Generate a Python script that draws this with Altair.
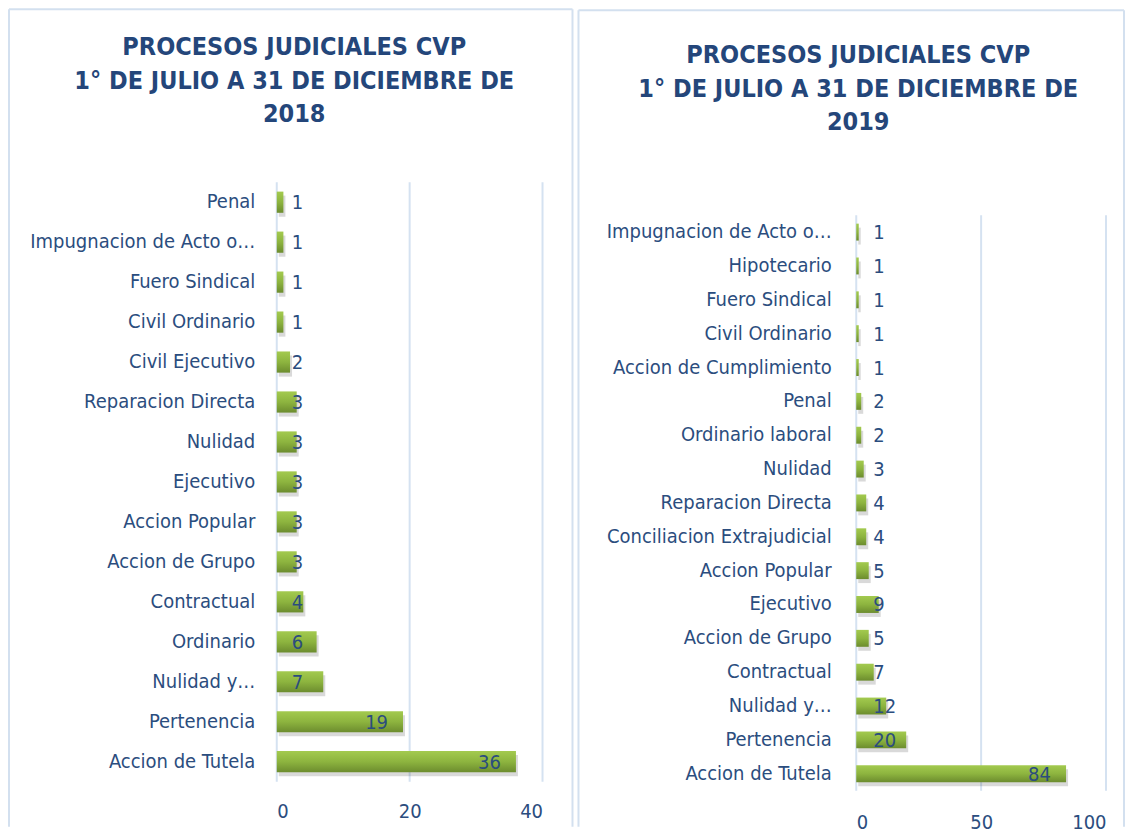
import altair as alt
import pandas as pd

# ---------------- data ----------------
cats_2018 = ["Penal", "Impugnacion de Acto o…", "Fuero Sindical", "Civil Ordinario",
             "Civil Ejecutivo", "Reparacion Directa", "Nulidad", "Ejecutivo",
             "Accion Popular", "Accion de Grupo", "Contractual", "Ordinario",
             "Nulidad y…", "Pertenencia", "Accion de Tutela"]
vals_2018 = [1, 1, 1, 1, 2, 3, 3, 3, 3, 3, 4, 6, 7, 19, 36]

cats_2019 = ["Impugnacion de Acto o…", "Hipotecario", "Fuero Sindical", "Civil Ordinario",
             "Accion de Cumplimiento", "Penal", "Ordinario laboral", "Nulidad",
             "Reparacion Directa", "Conciliacion Extrajudicial", "Accion Popular",
             "Ejecutivo", "Accion de Grupo", "Contractual", "Nulidad y…",
             "Pertenencia", "Accion de Tutela"]
vals_2019 = [1, 1, 1, 1, 1, 2, 2, 3, 4, 4, 5, 9, 5, 7, 12, 20, 84]

ticks_2018 = [0, 20, 40]
ticks_2019 = [0, 50, 100]

title_2018 = "PROCESOS JUDICIALES CVP\n1° DE JULIO A 31 DE DICIEMBRE DE\n2018"
title_2019 = "PROCESOS JUDICIALES CVP\n1° DE JULIO A 31 DE DICIEMBRE DE\n2019"

# ---------------- style ----------------
FONT = "Liberation Sans Narrow, Arial Narrow, DejaVu Sans Condensed, sans-serif"
TEXT = "#2B4D7E"
TITLE = "#24467A"
GRID = "#D5E2F1"
BORDER = "#D3E0EF"

green = alt.Gradient(
    gradient="linear",
    stops=[alt.GradientStop(color="#A3CA4F", offset=0),
           alt.GradientStop(color="#8DB43F", offset=0.5),
           alt.GradientStop(color="#6C8C2E", offset=1)],
    x1=0, x2=0, y1=0, y2=1,
)


def panel(cats, vals, ticks, w, h, y_top, pad_inner, lab_pad, x_lab_pad,
          lab_shift, lab_min, title, t_dx, t_y, border):
    df = pd.DataFrame({"cat": cats, "val": vals})
    base = alt.Chart(df)

    y_enc = alt.Y(
        "cat:N", sort=None, title=None,
        scale=alt.Scale(paddingInner=pad_inner, paddingOuter=pad_inner / 2,
                        range=[y_top, h]),
        axis=alt.Axis(domain=False, ticks=False, grid=False, labelFontSize=20,
                      labelFont=FONT, labelColor=TEXT, labelPadding=lab_pad,
                      labelLimit=400),
    )
    x_enc = alt.X(
        "val:Q", title=None,
        scale=alt.Scale(domain=[ticks[0], ticks[-1]], nice=False),
        axis=alt.Axis(values=ticks, domain=False, ticks=False, grid=False,
                      labelFontSize=20, labelFont=FONT, labelColor=TEXT,
                      labelPadding=x_lab_pad),
    )

    gdf = pd.DataFrame({"t": ticks})
    grid = alt.Chart(gdf).mark_rule(color=GRID, strokeWidth=2).encode(
        x=alt.X("t:Q"), y=alt.value(y_top), y2=alt.value(h))

    shadow = base.mark_bar(color="#000000", opacity=0.15, xOffset=2, yOffset=4).encode(
        x=x_enc, y=y_enc)
    bars = base.mark_bar(color=green).encode(x=x_enc, y=y_enc)
    labels = base.transform_calculate(
        lx=f"max(datum.val - {lab_shift}, {lab_min})"
    ).mark_text(align="left", baseline="middle", fontSize=20, font=FONT,
                color=TEXT, dy=1).encode(
        x=alt.X("lx:Q"), y=alt.Y("cat:N", sort=None), text="val:Q")

    tdf = pd.DataFrame({"t": [title]})
    ttl = alt.Chart(tdf).mark_text(
        lineBreak="\n", lineHeight=33.5, fontSize=25, fontWeight="bold",
        font=FONT, color=TITLE, align="center", baseline="alphabetic"
    ).encode(x=alt.value(t_dx), y=alt.value(t_y), text="t:N")

    bl, bt, br, bb = border
    bdf = pd.DataFrame({"k": [0]})
    rules = [
        alt.Chart(bdf).mark_rule(color=BORDER, strokeWidth=2).encode(
            x=alt.value(bl), x2=alt.value(br), y=alt.value(bt)),
        alt.Chart(bdf).mark_rule(color=BORDER, strokeWidth=2).encode(
            x=alt.value(bl), y=alt.value(bt), y2=alt.value(bb)),
        alt.Chart(bdf).mark_rule(color=BORDER, strokeWidth=2).encode(
            x=alt.value(br), y=alt.value(bt), y2=alt.value(bb)),
    ]
    return alt.layer(grid, shadow, bars, labels, ttl, *rules).properties(width=w, height=h)


left = panel(cats_2018, vals_2018, ticks_2018, 266, 600, 0, 0.47, 22, 20,
             5.7, 2.25, title_2018, 17.5, -127, (-268, -173, 296, 645))
right = panel(cats_2019, vals_2019, ticks_2019, 250, 609, 33, 0.5, 25, 22,
              15.2, 6.8, title_2019, 2, -119, (-278, -172, 268, 645))

chart = alt.hconcat(left, right, spacing=4).properties(
    padding={"left": 0, "top": 0, "right": 0, "bottom": 0}
).configure(background="white").configure_view(stroke=None)

chart.save("out.html", embed_options={"renderer": "svg", "actions": False})
